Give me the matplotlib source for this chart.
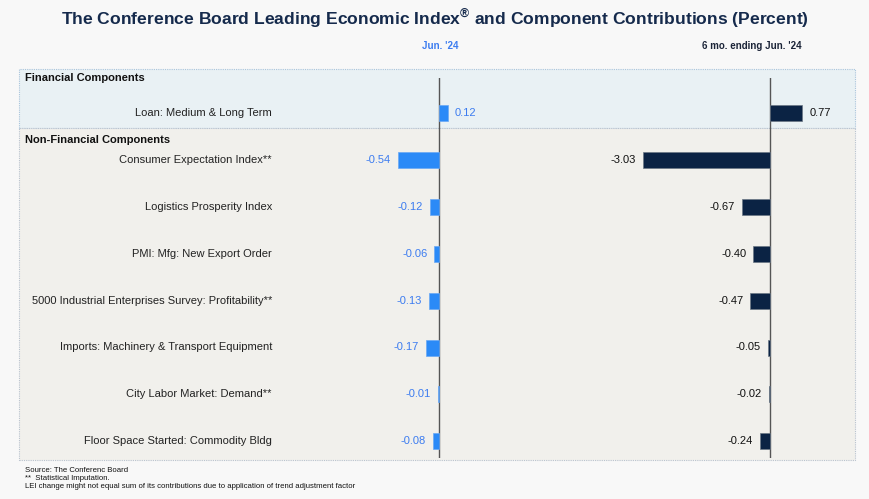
import numpy as np
import matplotlib.pyplot as plt
from matplotlib import transforms
from matplotlib.patches import Rectangle

# data
components = ['Loan: Medium & Long Term',
              'Consumer Expectation Index**',
              'Logistics Prosperity Index',
              'PMI: Mfg: New Export Order',
              '5000 Industrial Enterprises Survey: Profitability**',
              'Imports: Machinery & Transport Equipment',
              'City Labor Market: Demand**',
              'Floor Space Started: Commodity Bldg']
jun24 = [0.12, -0.54, -0.12, -0.06, -0.13, -0.17, -0.01, -0.08]
six_mo = [0.77, -3.03, -0.67, -0.40, -0.47, -0.05, -0.02, -0.24]

W, H = 870, 499
BG = '#f8f8f8'
BLUE = '#2b8af7'
BLUE_TXT = '#3c7cf0'
NAVY = '#0b2344'
TITLE_C = '#152a4c'
plt.rcParams['font.family'] = ['Liberation Sans', 'DejaVu Sans']
plt.rcParams['mathtext.fontset'] = 'custom'
plt.rcParams['mathtext.rm'] = 'Liberation Sans'
plt.rcParams['mathtext.bf'] = 'Liberation Sans:bold'

fig = plt.figure(figsize=(W / 100, H / 100), dpi=100)
fig.patch.set_facecolor(BG)


def frac(x0, y0, x1, y1):
    # pixel box (top-left origin) -> figure fraction [l, b, w, h]
    return [x0 / W, 1 - y1 / H, (x1 - x0) / W, (y1 - y0) / H]


def fx(x):
    return x / W


def fy(y):
    return 1 - y / H


# panels
for (x0, y0, x1, y1), fc, ec in [((19, 69, 855, 128), '#e9f1f4', '#a9c4dc'),
                                  ((19, 128, 855, 460), '#f1f0ec', '#b9c3cf')]:
    l, b, w, h = frac(x0, y0, x1, y1)
    fig.patches.append(Rectangle((l, b), w, h, transform=fig.transFigure,
                                 facecolor=fc, edgecolor=ec, lw=0.8,
                                 linestyle=(0, (1, 1)), zorder=-5))

fig.text(0.5, fy(18), 'The Conference Board Leading Economic Index$^{\\mathbf{®}}$ and Component Contributions (Percent)',
         ha='center', va='center', fontsize=12.6, fontweight='bold', color=TITLE_C)
fig.text(fx(440), fy(46), "Jun. '24", ha='center', va='center', fontsize=7,
         fontweight='bold', color=BLUE_TXT)
fig.text(fx(752), fy(46), "6 mo. ending Jun. '24", ha='center', va='center', fontsize=7,
         fontweight='bold', color='#1b2438')
fig.text(fx(25), fy(78), 'Financial Components', ha='left', va='center', fontsize=8,
         fontweight='bold', color='#111111')
fig.text(fx(25), fy(140), 'Non-Financial Components', ha='left', va='center', fontsize=8,
         fontweight='bold', color='#111111')

fig.text(fx(25), fy(471), 'Source: The Conferenc Board', fontsize=5.6, va='center', color='#111111')
fig.text(fx(25), fy(479), '**  Statistical Imputation.', fontsize=5.6, va='center', color='#111111')
fig.text(fx(25), fy(487), 'LEI change might not equal sum of its contributions due to application of trend adjustment factor',
         fontsize=5.6, va='center', color='#111111')

rows = np.arange(len(components))
row_px = 46.9
top, bot = 78, 458
ylim = ((bot - 113) / row_px, (top - 113) / row_px)
bar_h = 16 / row_px


def make_axis(x0, x1, zero_px, scale):
    ax = fig.add_axes(frac(x0, top, x1, bot), zorder=2)
    ax.set_xlim((x0 - zero_px) / scale, (x1 - zero_px) / scale)
    ax.set_ylim(*ylim)
    ax.axis('off')
    ax.patch.set_alpha(0)
    ax.axvline(0, color='#555555', lw=1, zorder=1)
    return ax


ax1 = make_axis(300, 620, 439, 76.0)
ax2 = make_axis(630, 850, 770, 41.8)

ax1.barh(rows, jun24, height=bar_h, color=BLUE, edgecolor='#6aa8f5', lw=0.5, zorder=2)
ax2.barh(rows, six_mo, height=bar_h, color=NAVY, edgecolor='#6b7785', lw=0.5, zorder=2)

off1 = 7 / 76.0
for r, v in zip(rows, jun24):
    ax1.text(v + off1 if v >= 0 else v - off1, r, f'{v:.2f}', ha='left' if v >= 0 else 'right',
             va='center', fontsize=8, color=BLUE_TXT)
off2 = 7 / 41.8
for r, v in zip(rows, six_mo):
    ax2.text(v + off2 if v >= 0 else v - off2, r, f'{v:.2f}', ha='left' if v >= 0 else 'right',
             va='center', fontsize=8, color='#111111')

lab_tr = transforms.blended_transform_factory(fig.transFigure, ax1.transData)
for r, name in zip(rows, components):
    ax1.text(fx(272), r, name, transform=lab_tr, ha='right', va='center', fontsize=8,
             color='#222222', clip_on=False)

fig.savefig('out.png', dpi=100, facecolor=BG)
